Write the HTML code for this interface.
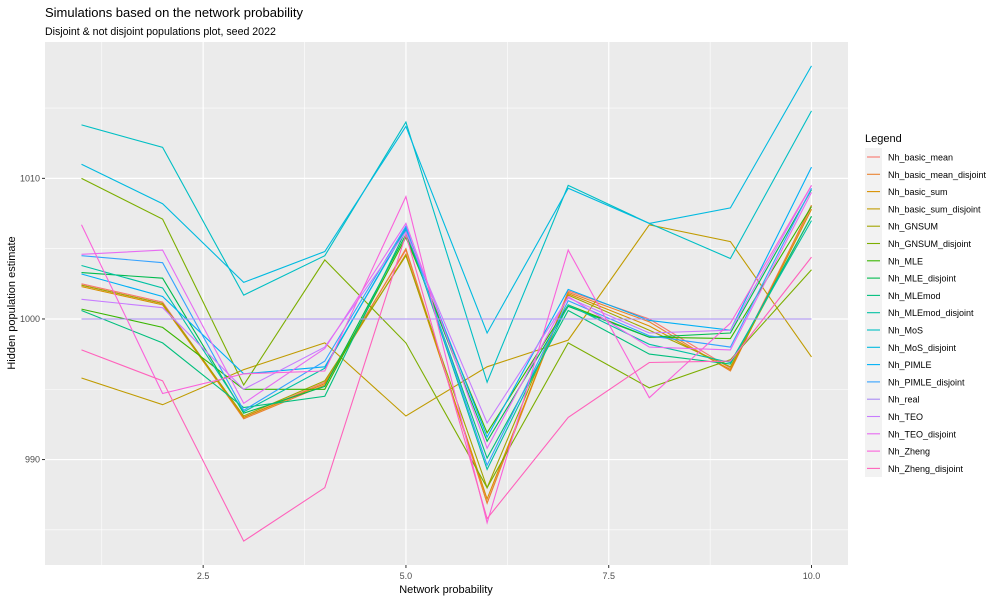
<!DOCTYPE html>
<html><head><meta charset="utf-8"><style>
body{margin:0;background:#fff;font-family:"Liberation Sans",sans-serif}
</style></head><body>
<svg id="chart" width="1000" height="600" xmlns="http://www.w3.org/2000/svg" font-family="Liberation Sans, sans-serif">
<text x="45" y="17" font-size="13" fill="#000">Simulations based on the network probability</text>
<text x="45" y="35" font-size="10.6" fill="#000">Disjoint &amp; not disjoint populations plot, seed 2022</text>
<rect x="45" y="42" width="803" height="523" fill="#EBEBEB"/>
<g id="grid"></g>
<g id="lines"></g>
<g id="axes"></g>
<text x="446" y="593" font-size="11" text-anchor="middle">Network probability</text>
<text transform="translate(15,303) rotate(-90)" font-size="11" text-anchor="middle">Hidden population estimate</text>
<text x="865" y="142" font-size="11">Legend</text>
<rect x="865" y="148" width="17" height="329" fill="#F2F2F2"/>
<g id="legend"></g>
</svg>
<script>
const xs = [1,2,3,4,5,6,7,8,9,10];
const seriesNames = ["Nh_basic_mean","Nh_basic_mean_disjoint","Nh_basic_sum","Nh_basic_sum_disjoint","Nh_GNSUM","Nh_GNSUM_disjoint","Nh_MLE","Nh_MLE_disjoint","Nh_MLEmod","Nh_MLEmod_disjoint","Nh_MoS","Nh_MoS_disjoint","Nh_PIMLE","Nh_PIMLE_disjoint","Nh_real","Nh_TEO","Nh_TEO_disjoint","Nh_Zheng","Nh_Zheng_disjoint"];
const colors = ["#F8766D","#EA8331","#D89000","#C09B00","#A3A500","#7CAE00","#39B600","#00BB4E","#00BF7D","#00C1A3","#00BFC4","#00BAE0","#00B0F6","#35A2FF","#A98BF5","#C77CFF","#E76BF3","#FA62DB","#FF62BC"];
const v_basic_mean = [1002.5,1001.2,993.0,995.5,1004.9,986.9,1002.0,1000.0,996.5,1008.0];
const v_basic_mean_disjoint = [1002.4,1001.1,992.9,995.3,1005.0,986.9,1001.9,999.8,996.3,1008.1];
const v_basic_sum = [1002.3,1001.0,993.0,995.4,1004.6,987.2,1001.8,999.5,996.4,1007.8];
const v_basic_sum_disjoint = [995.8,993.9,996.4,998.3,993.1,996.6,998.5,1006.7,1005.5,997.3];
const v_GNSUM = [1002.4,1001.1,993.1,995.6,1004.5,988.0,1001.7,999.2,996.6,1007.3];
const v_GNSUM_disjoint = [1010.0,1007.1,995.3,1004.2,998.3,988.0,998.3,995.1,997.1,1003.5];
const v_MLE = [1000.7,999.4,995.0,995.0,1005.8,991.9,1001.0,998.7,998.6,1008.0];
const v_MLE_disjoint = [1003.3,1002.9,993.3,995.2,1006.0,991.3,1000.9,998.7,999.0,1009.2];
const v_MLEmod = [1000.6,998.3,993.7,994.5,1006.3,990.1,1000.6,997.5,996.8,1007.3];
const v_MLEmod_disjoint = [1003.8,1002.2,993.4,996.5,1006.5,989.3,1001.0,998.2,996.9,1007.0];
const v_MoS = [1013.8,1012.2,1001.7,1004.5,1014.0,995.5,1009.5,1006.8,1004.3,1014.8];
const v_MoS_disjoint = [1011.0,1008.2,1002.6,1004.8,1013.7,999.0,1009.3,1006.8,1007.9,1018.0];
const v_PIMLE = [1003.2,1001.6,996.1,996.6,1006.4,991.6,1002.1,999.9,999.2,1010.8];
const v_PIMLE_disjoint = [1004.5,1004.0,993.5,997.0,1006.6,989.6,1001.3,998.8,998.0,1009.3];
const v_real = [1000,1000,1000,1000,1000,1000,1000,1000,1000,1000];
const v_TEO = [1001.4,1000.8,995.0,998.0,1006.2,992.6,1001.5,999.0,999.2,1009.5];
const v_TEO_disjoint = [1004.6,1004.9,994.0,997.9,1006.8,990.8,1001.6,998.0,997.8,1009.0];
const v_Zheng = [1006.7,994.7,996.1,996.3,1008.7,985.5,1004.9,994.4,999.7,1009.5];
const v_Zheng_disjoint = [997.8,995.6,984.2,988.0,1006.0,985.8,993.0,996.9,997.0,1004.4];
const allValues = [v_basic_mean,v_basic_mean_disjoint,v_basic_sum,v_basic_sum_disjoint,v_GNSUM,v_GNSUM_disjoint,v_MLE,v_MLE_disjoint,v_MLEmod,v_MLEmod_disjoint,v_MoS,v_MoS_disjoint,v_PIMLE,v_PIMLE_disjoint,v_real,v_TEO,v_TEO_disjoint,v_Zheng,v_Zheng_disjoint];
const xTicks = [2.5,5.0,7.5,10.0];
const xTickLabels = ["2.5","5.0","7.5","10.0"];
const xMinor = [1.25,3.75,6.25,8.75];
const yTicks = [990,1000,1010];
const yTickLabels = ["990","1000","1010"];
const yMinor = [985,995,1005,1015];

const NS="http://www.w3.org/2000/svg";
const X0=45,X1=848,Y0=42,Y1=565;
const xMin=0.55,xMax=10.45,yMin=982.5,yMax=1019.7;
function xScale(v){return X0+(v-xMin)/(xMax-xMin)*(X1-X0);}
function yScale(v){return Y1-(v-yMin)/(yMax-yMin)*(Y1-Y0);}
function mk(tag,attrs,parent){const e=document.createElementNS(NS,tag);for(const k in attrs)e.setAttribute(k,attrs[k]);parent.appendChild(e);return e;}
const grid=document.getElementById('grid'),lines=document.getElementById('lines'),axes=document.getElementById('axes'),legend=document.getElementById('legend');
xMinor.forEach(v=>{const l=mk('line',{x1:xScale(v),x2:xScale(v),y1:Y0,y2:Y1,stroke:'#fff','stroke-width':0.6},grid);

});
yMinor.forEach(v=>{const l=mk('line',{x1:X0,x2:X1,y1:yScale(v),y2:yScale(v),stroke:'#fff','stroke-width':0.6},grid);

});
xTicks.forEach((v,i)=>{const l=mk('line',{x1:xScale(v),x2:xScale(v),y1:Y0,y2:Y1,stroke:'#fff','stroke-width':1.2},grid);


const t=mk('line',{x1:xScale(v),x2:xScale(v),y1:Y1,y2:Y1+3,stroke:'#333','stroke-width':1},axes);


const tx=mk('text',{x:xScale(v),y:Y1+14,'font-size':9,'text-anchor':'middle',fill:'#4D4D4D'},axes);tx.textContent=xTickLabels[i];

});
yTicks.forEach((v,i)=>{const l=mk('line',{x1:X0,x2:X1,y1:yScale(v),y2:yScale(v),stroke:'#fff','stroke-width':1.2},grid);


const t=mk('line',{x1:X0-3,x2:X0,y1:yScale(v),y2:yScale(v),stroke:'#333','stroke-width':1},axes);


const tx=mk('text',{x:X0-5,y:yScale(v)+3,'font-size':9,'text-anchor':'end',fill:'#4D4D4D'},axes);tx.textContent=yTickLabels[i];

});
allValues.forEach((vals,s)=>{
const pts=vals.map((v,i)=>xScale(xs[i]).toFixed(1)+','+yScale(v).toFixed(1)).join(' ');
const p=mk('polyline',{points:pts,fill:'none',stroke:colors[s],'stroke-width':1.1},lines);


const ly=157+s*17.3;
const g=mk('g',{},legend);


mk('line',{x1:867,x2:880,y1:ly,y2:ly,stroke:colors[s],'stroke-width':1.1},g);
const t=mk('text',{x:888,y:ly+3.5,'font-size':9,fill:'#000'},g);t.textContent=seriesNames[s];
});
</script>
</body></html>
